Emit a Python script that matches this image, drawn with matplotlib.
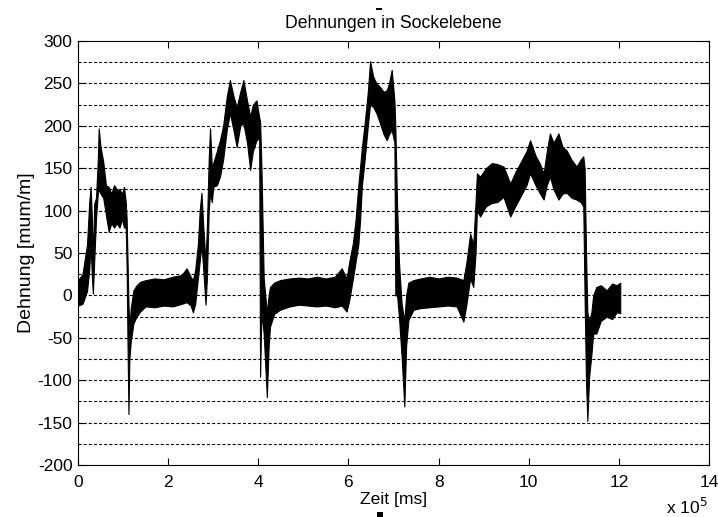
import numpy as np
import matplotlib
matplotlib.use("Agg")
import matplotlib.pyplot as plt
from matplotlib.ticker import FuncFormatter
from matplotlib.patches import Rectangle

plt.rcParams['font.family'] = ['Liberation Sans', 'DejaVu Sans']
plt.rcParams['lines.scale_dashes'] = False
plt.rcParams['axes.unicode_minus'] = False

# Time (in units of 1e5 ms) with lower/upper envelope of the noisy strain signal
time_e5 = [0.00, 0.10, 0.20, 0.25, 0.28, 0.31, 0.33, 0.36, 0.40, 0.44, 0.46, 0.50, 0.56, 0.62, 0.68,
           0.74, 0.80, 0.86, 0.92, 0.98, 1.02, 1.06, 1.08, 1.10, 1.12, 1.14, 1.17, 1.23, 1.30, 1.38,
           1.50, 1.70, 1.90, 2.10, 2.30, 2.41, 2.50, 2.55, 2.60, 2.66, 2.70, 2.74, 2.78, 2.83, 2.86,
           2.90, 2.93, 2.97, 3.00, 3.08, 3.15, 3.22, 3.30, 3.37, 3.45, 3.52, 3.60, 3.67, 3.75, 3.82,
           3.88, 3.96, 4.02, 4.04, 4.07, 4.12, 4.19, 4.23, 4.26, 4.35, 4.48, 4.70, 4.90, 5.10, 5.30,
           5.50, 5.70, 5.85, 5.96, 6.02, 6.10, 6.16, 6.22, 6.26, 6.30, 6.36, 6.43, 6.48, 6.55, 6.62,
           6.70, 6.78, 6.85, 6.90, 6.96, 7.02, 7.04, 7.08, 7.12, 7.18, 7.24, 7.28, 7.33, 7.44, 7.60,
           7.80, 8.00, 8.20, 8.40, 8.55, 8.62, 8.70, 8.77, 8.82, 8.85, 8.92, 9.05, 9.18, 9.30, 9.44,
           9.59, 9.70, 9.81, 9.95, 10.03, 10.15, 10.25, 10.33, 10.40, 10.47, 10.55, 10.66, 10.75, 10.84, 10.95,
           11.06, 11.15, 11.21, 11.24, 11.27, 11.30, 11.34, 11.39, 11.43, 11.50, 11.60, 11.73, 11.85, 11.95, 12.03]
strain_low = [-12, -10, 5, 30, 60, 20, 2, 40, 90, 120, 125, 120, 115, 95, 75,
              85, 80, 85, 80, 90, 80, 80, 30, -60, -140, -75, -55, -33, -25, -19,
              -13, -14, -12, -13, -10, -8, -12, -20, -10, 20, 40, 60, 30, -11, 20,
              100, 120, 110, 128, 130, 140, 160, 195, 215, 195, 175, 200, 203, 180, 148,
              170, 183, 185, -96, -20, -45, -120, -60, -37, -22, -17, -13, -11, -12, -13,
              -12, -14, -12, -19, -5, 20, 40, 60, 90, 130, 160, 200, 225, 222, 215,
              203, 190, 183, 190, 195, 180, 0, 0, -25, -72, -131, -60, -29, -17, -15,
              -14, -13, -12, -13, -31, -10, 20, 10, 50, 100, 93, 105, 109, 110, 116,
              93, 105, 116, 130, 144, 130, 120, 113, 130, 140, 125, 113, 120, 121, 115,
              113, 110, 105, -5, -100, -148, -96, -70, -45, -45, -30, -25, -28, -20, -21]
strain_high = [18, 25, 60, 110, 128, 90, 40, 108, 115, 160, 197, 175, 158, 130, 128,
               120, 130, 125, 125, 120, 128, 110, 90, 40, -10, -40, -15, 6, 12, 16,
               18, 20, 19, 22, 24, 32, 22, 18, 30, 60, 100, 121, 80, 40, 80,
               160, 197, 150, 156, 170, 183, 200, 234, 254, 235, 222, 240, 254, 230, 211,
               225, 230, 210, 205, 152, 20, -20, 0, 10, 15, 18, 20, 21, 20, 22,
               20, 22, 32, 20, 40, 62, 90, 130, 152, 175, 203, 240, 276, 258, 250,
               246, 240, 242, 250, 266, 230, 200, 105, 40, -10, -30, 0, 15, 18, 20,
               22, 20, 22, 21, 18, 40, 73, 60, 110, 144, 140, 150, 156, 155, 152,
               132, 145, 156, 170, 183, 165, 155, 144, 170, 191, 180, 191, 175, 171, 160,
               152, 160, 164, 150, 54, -20, -30, -20, 0, 10, 12, 6, 14, 12, 15]

y_ticks = [-200, -150, -100, -50, 0, 50, 100, 150, 200, 250, 300]
x_ticks = [0, 2, 4, 6, 8, 10, 12, 14]

fig = plt.figure(figsize=(7.18, 5.17), dpi=100)
ax = fig.add_axes([0.1086, 0.1006, 0.8789, 0.8201])

t = np.array(time_e5) * 1e5
ax.fill_between(t, strain_low, strain_high, color='black', lw=0.8, edgecolor='black')

for lvl in np.arange(-175, 300, 25):
    ax.axhline(lvl, color='black', lw=0.8, dashes=(2.2, 1.5), zorder=0.5)

ax.set_xlim(0, 14e5)
ax.set_ylim(-200, 300)
ax.set_xticks(np.array(x_ticks) * 1e5)
ax.xaxis.set_major_formatter(FuncFormatter(lambda v, p: f"{v/1e5:g}"))
ax.set_yticks(y_ticks)

ax.tick_params(direction='in', length=5, width=0.8, top=True, right=True,
               labelsize=12.5)
ax.tick_params(axis='y', pad=4)
ax.tick_params(axis='x', pad=7)
for s in ax.spines.values():
    s.set_linewidth(0.8)

ax.set_title('Dehnungen in Sockelebene', fontsize=12.7, pad=9)
ax.set_xlabel('Zeit [ms]', fontsize=12.6, labelpad=2)
ax.set_ylabel('Dehnung [mum/m]', fontsize=14, labelpad=2)
fig.text(0.985, 0.0, r'x 10$^5$', ha='right', va='bottom', fontsize=12.5)

# small marks present in the reference image
fig.add_artist(Rectangle((376/718, 1 - 10/517), 6/718, 2/517, transform=fig.transFigure,
                         color='black', lw=0))
fig.add_artist(Rectangle((377/718, 0), 6/718, 5/517, transform=fig.transFigure,
                         color='black', lw=0))

fig.savefig('out.png', dpi=100)
